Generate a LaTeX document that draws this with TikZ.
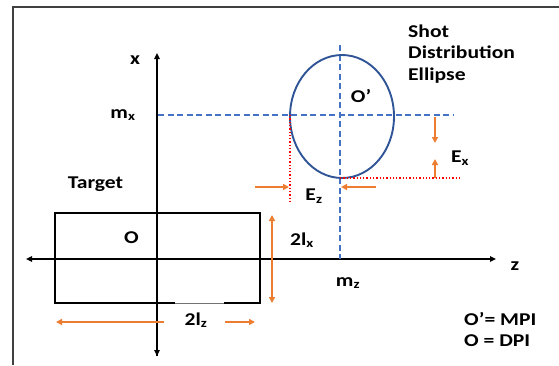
\documentclass[tikz,border=0pt]{standalone}
\usepackage{fontspec}
\setmainfont{Carlito}[FakeStretch=1.2]
\usetikzlibrary{arrows.meta}
\definecolor{orng}{HTML}{ED7D31}
\definecolor{dblue}{HTML}{4472C4}
\definecolor{eblue}{HTML}{2F5597}
\tikzset{
  lbl/.style={font=\bfseries\fontsize{18}{21.5}\selectfont, inner sep=0pt},
  axis/.style={line width=1.6pt, black, -{Triangle[length=6pt,width=5.5pt]}},
  oarrow/.style={line width=1.6pt, orng, -{Triangle[length=6pt,width=6pt]}},
  bdash/.style={line width=1.7pt, dblue, dash pattern=on 6pt off 3.5pt},
  rdot/.style={line width=1.3pt, red, dotted},
  frame/.style={line width=1.2pt, black!75},
}
\begin{document}
\begin{tikzpicture}[x=1pt,y=-1pt]
\useasboundingbox (0,0) rectangle (559,365);
% frame
\draw[frame] (13,365) -- (13,7) -- (559,7);
% coordinates
\coordinate (xtop) at (157,53);
\coordinate (xbot) at (157,356);
\coordinate (zleft) at (26,259);
\coordinate (zright) at (496,259);
\coordinate (mxstart) at (158,115);
\coordinate (mxend) at (453,115);
\coordinate (vtop) at (340,45);
\coordinate (vbot) at (340,259);
\coordinate (ell) at (342,116.5);
% target rectangle
\coordinate (ra) at (55,213);
\coordinate (rb) at (260,213);
\coordinate (rc) at (260,303);
\coordinate (rd) at (55,303);
\coordinate (ga) at (175,303);
\coordinate (gb) at (224,303);
\draw[line width=1.5pt] (ga) -- (rd) -- (ra) -- (rb) -- (rc) -- (gb);
\draw[line width=0.6pt, black!55] (ga) -- (gb);
% axes
\draw[axis] (xbot) -- (xtop);
\draw[axis] (157,259) -- (xbot);
\draw[axis] (157,259) -- (zleft);
\draw[axis] (157,259) -- (zright);
% dashed lines
\draw[bdash] (mxstart) -- (mxend);
\draw[bdash] (vtop) -- (vbot);
% ellipse
\draw[eblue, line width=1.9pt] (ell) ellipse [x radius=52, y radius=61.5];
% red dotted
\coordinate (r1) at (290,115);
\coordinate (r2) at (290,204);
\coordinate (r3) at (340,178);
\coordinate (r4) at (461,178);
\draw[rdot] (r1) -- (r2);
\draw[rdot] (r3) -- (r4);
% Ex arrows
\coordinate (ex1) at (435,117);
\coordinate (ex2) at (435,143);
\coordinate (ex3) at (435,178);
\coordinate (ex4) at (435,159);
\draw[oarrow] (ex1) -- (ex2);
\draw[oarrow] (ex3) -- (ex4);
% Ez arrows
\coordinate (ez1) at (255,187);
\coordinate (ez2) at (289,187);
\coordinate (ez3) at (376,187);
\coordinate (ez4) at (341,187);
\draw[oarrow] (ez1) -- (ez2);
\draw[oarrow] (ez3) -- (ez4);
% 2lx arrow
\coordinate (lx1) at (272,215);
\coordinate (lx2) at (272,303);
\draw[oarrow, {Triangle[length=6pt,width=6pt]}-{Triangle[length=6pt,width=6pt]}] (lx1) -- (lx2);
% 2lz arrows
\coordinate (lz1) at (164,322);
\coordinate (lz2) at (56,322);
\coordinate (lz3) at (225,322);
\coordinate (lz4) at (255,322);
\draw[oarrow] (lz1) -- (lz2);
\draw[oarrow] (lz3) -- (lz4);
% labels
\node[lbl] (lx) at (135,60) {x};
\node[lbl] (lmx) at (123,115) {m\textsubscript{x}};
\node[lbl] (lz) at (515,266) {z};
\node[lbl] (lmz) at (348,283) {m\textsubscript{z}};
\node[lbl] (lop) at (361,96) {O’};
\node[lbl, anchor=west, align=left] (lsde) at (408,54) {Shot\\Distribution\\Ellipse};
\node[lbl] (lex) at (460,158) {E\textsubscript{x}};
\node[lbl] (lez) at (314,196) {E\textsubscript{z}};
\node[lbl] (ltarget) at (95.5,184) {Target};
\node[lbl] (lo) at (131.5,238) {O};
\node[lbl] (l2lx) at (302,240) {2l\textsubscript{x}};
\node[lbl] (l2lz) at (196,320) {2l\textsubscript{z}};
\node[lbl, anchor=west] (lmpi) at (464,319) {O’= MPI};
\node[lbl, anchor=west] (ldpi) at (464,341) {O = DPI};
\end{tikzpicture}
\end{document}
